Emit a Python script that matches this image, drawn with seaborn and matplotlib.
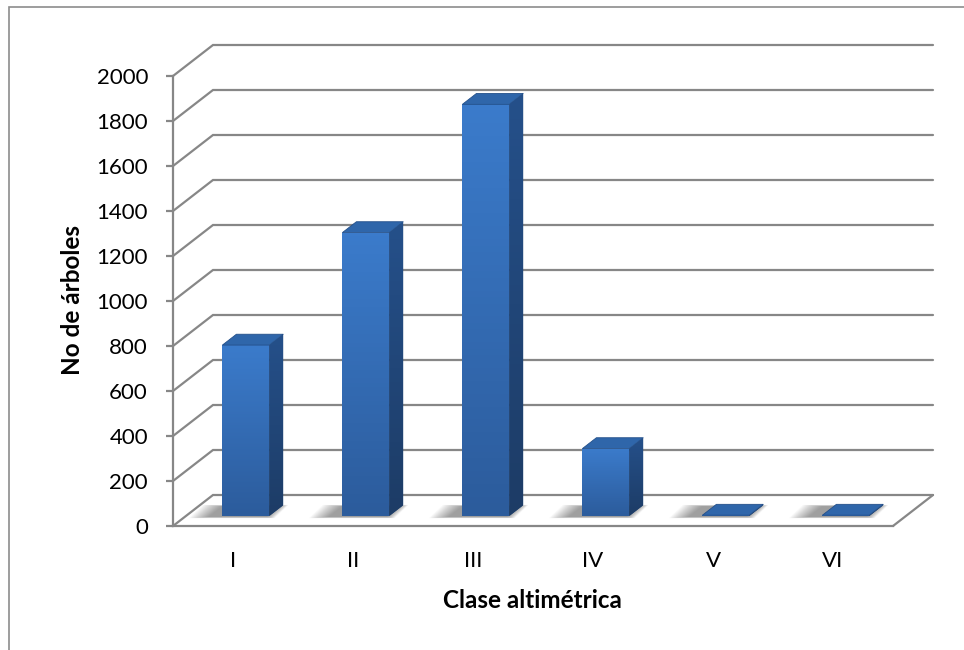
import numpy as np
import pandas as pd
import matplotlib
matplotlib.use("Agg")
import matplotlib.pyplot as plt
from matplotlib.patches import Polygon, Rectangle
from matplotlib.colors import LinearSegmentedColormap
import seaborn as sns

# Number of trees per altitude class
categories = ["I", "II", "III", "IV", "V", "VI"]
trees = [760, 1260, 1830, 300, 4, 4]
y_ticks = [0, 200, 400, 600, 800, 1000, 1200, 1400, 1600, 1800, 2000]

sns.set_theme(style="white")
plt.rcParams["font.family"] = ["Lato", "DejaVu Sans"]

df = pd.DataFrame({"clase": categories, "arboles": trees})

fig = plt.figure(figsize=(9.64, 6.5), dpi=100)
W, H = 964, 650
ax = fig.add_axes([173 / W, (H - 526) / H, 760 / W, 481 / H])

# oblique depth of the 3D box (data units)
DX = 40 / 120          # horizontal shift of the back wall, category units
DY = 31 / 0.225        # vertical shift of the back wall, value units
BAR_FRONT = 0.32       # depth fraction where the bar front faces sit
BAR_DEPTH = 0.35       # depth fraction occupied by each bar
GRID = "#878787"

sns.barplot(data=df, x="clase", y="arboles", color="#3572bf", saturation=1,
            width=0.39, ax=ax, zorder=5, linewidth=0)

ax.set_xlim(-0.5, 5.5 + DX)
ax.set_ylim(0, 2000 + DY)

# back wall gridlines with their diagonal returns to the front axis
for v in y_ticks:
    ax.plot([-0.5, -0.5 + DX, 5.5 + DX], [v, v + DY, v + DY],
            color=GRID, lw=1.6, zorder=1, clip_on=False, solid_joinstyle="miter")
# right edge of the floor
ax.plot([5.5, 5.5 + DX], [0, DY], color=GRID, lw=1.6, zorder=1, clip_on=False)

front_cmap = LinearSegmentedColormap.from_list("front", ["#3b7bcb", "#2c5c9c"])
side_cmap = LinearSegmentedColormap.from_list("side", ["#25508a", "#1d3c66"])

sx, sy = BAR_FRONT * DX, BAR_FRONT * DY
dxd, dyd = BAR_DEPTH * DX, BAR_DEPTH * DY

for patch in list(ax.patches):
    x0 = patch.get_x() + sx
    w = patch.get_width()
    h = patch.get_height()
    x1 = x0 + w
    patch.set_x(x0)
    patch.set_y(sy)
    base, top = sy, sy + h

    # soft shadow on the floor, fading outward
    n = 18
    for k in range(n):
        t = k / (n - 1)
        gx = 0.16 * t
        gy = 14 * t
        shadow = Polygon([(x0 - 0.12 - gx, base - 4 - gy * 0.4),
                          (x1 - 0.02 + gx * 0.4, base - 4 - gy * 0.4),
                          (x1 + dxd - 0.02 + gx * 0.4, base + dyd - 4 + gy * 0.4),
                          (x0 + dxd - 0.12 - gx, base + dyd - 4 + gy * 0.4)],
                         closed=True, fc="#000000", ec="none",
                         alpha=0.022, zorder=2)
        ax.add_patch(shadow)

    # front face gradient
    if h > 1:
        grad = np.linspace(0, 1, 64).reshape(-1, 1)
        im = ax.imshow(grad, cmap=front_cmap, aspect="auto",
                       extent=(x0, x1, base, top), origin="upper", zorder=6)
        im.set_clip_path(patch)

        # right side face
        side = Polygon([(x1, base), (x1 + dxd, base + dyd),
                        (x1 + dxd, top + dyd), (x1, top)],
                       closed=True, fc="#224878", ec="none", zorder=6)
        ax.add_patch(side)
        sim = ax.imshow(grad, cmap=side_cmap, aspect="auto",
                        extent=(x1, x1 + dxd, base, top + dyd), origin="upper", zorder=6)
        sim.set_clip_path(side)

    # top face
    lid = Polygon([(x0, top), (x1, top), (x1 + dxd, top + dyd), (x0 + dxd, top + dyd)],
                  closed=True, fc="#2f66aa", ec="#24508a", lw=0.6, zorder=7,
                  joinstyle="round")
    ax.add_patch(lid)

ax.set_xlim(-0.5, 5.5 + DX)
ax.set_ylim(0, 2000 + DY)

# axes lines on the front plane
for s in ["top", "right"]:
    ax.spines[s].set_visible(False)
ax.spines["left"].set_bounds(0, 2000)
ax.spines["bottom"].set_bounds(-0.5, 5.5)
for s in ["left", "bottom"]:
    ax.spines[s].set_color(GRID)
    ax.spines[s].set_linewidth(1.6)
    ax.spines[s].set_zorder(8)

ax.set_yticks(y_ticks)
ax.set_yticklabels([str(t) for t in y_ticks])
ax.tick_params(axis="y", left=True, length=5, width=1.6, color=GRID,
               pad=13, labelsize=16, labelcolor="#000000")
ax.tick_params(axis="x", bottom=False, length=0, pad=18,
               labelsize=16, labelcolor="#000000")

ax.set_xlabel("Clase altimétrica", fontsize=17.5, fontweight="bold", color="#000000")
ax.set_ylabel("No de árboles", fontsize=17.5, fontweight="bold", color="#000000")
ax.xaxis.label.set_va("center")
ax.yaxis.label.set_va("center")
ax.xaxis.set_label_coords((532 - 173) / 760, (526 - 601) / 481)
ax.yaxis.set_label_coords((72 - 173) / 760, (526 - 300) / 481)
ax.set_facecolor("none")

# chart area border
fig.patches.append(Rectangle((8.5 / W, -0.1), 2.0, 1 - 7 / H + 0.1,
                             transform=fig.transFigure, fill=False,
                             ec="#8c8c8c", lw=1.2))

fig.savefig("out.png", dpi=100, facecolor="white")
